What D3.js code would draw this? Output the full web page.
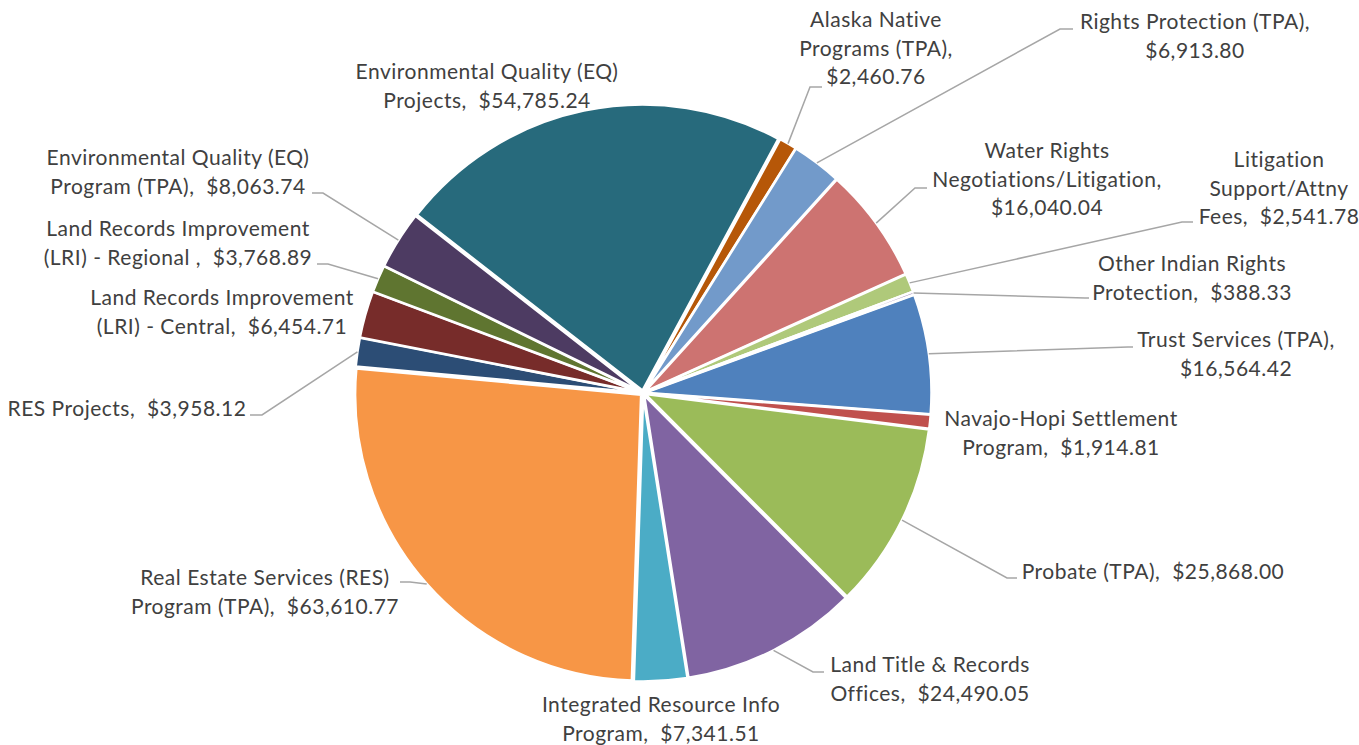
<!DOCTYPE html>
<html>
<head>
<meta charset="utf-8">
<script src="https://cdn.jsdelivr.net/npm/d3@7"></script>
<style>
  html, body { margin: 0; padding: 0; background: #ffffff; }
  svg { display: block; }
  text { font-family: Lato, "Open Sans", sans-serif; fill: #404040; white-space: pre; letter-spacing: 0.5px; }
</style>
</head>
<body>
<svg id="chart" width="1359" height="745"></svg>
<script>
// Program categories, in drawing order (clockwise)
const categories = [
  "Trust Services (TPA)",
  "Navajo-Hopi Settlement Program",
  "Probate (TPA)",
  "Land Title & Records Offices",
  "Integrated Resource Info Program",
  "Real Estate Services (RES) Program (TPA)",
  "RES Projects",
  "Land Records Improvement (LRI) - Central",
  "Land Records Improvement (LRI) - Regional ",
  "Environmental Quality (EQ) Program (TPA)",
  "Environmental Quality (EQ) Projects",
  "Alaska Native Programs (TPA)",
  "Rights Protection (TPA)",
  "Water Rights Negotiations/Litigation",
  "Litigation Support/Attny Fees",
  "Other Indian Rights Protection"
];

// Dollar amounts per category
const values = [
  16564.42, 1914.81, 25868.00, 24490.05, 7341.51, 63610.77, 3958.12, 6454.71,
  3768.89, 8063.74, 54785.24, 2460.76, 6913.80, 16040.04, 2541.78, 388.33
];

// Slice fills
const colors = [
  "#4F81BD", "#C0504D", "#9BBB59", "#8064A2", "#4BACC6", "#F79646",
  "#2C4D75", "#772C2A", "#5F7530", "#4D3B62", "#276A7C", "#B65708",
  "#729ACA", "#CD7371", "#AFC97A", "#9983B5"
];

// Label layout: words per line, anchor (centre x, first baseline y),
// and the leader path's elbow / end points (null = no leader)
const labelLayout = [
  { lines: [3, 1],    x: 1236, y: 347, elbow: [1128, 347], end: [1133, 347] },
  { lines: [2, 2],    x: 1061, y: 426, elbow: null },
  { lines: [3],       x: 1153, y: 579, elbow: [1007, 578], end: [1017, 578] },
  { lines: [4, 2],    x: 930,  y: 672, elbow: [813, 672],  end: [824, 672] },
  { lines: [3, 2],    x: 661,  y: 712, elbow: null },
  { lines: [4, 3],    x: 265,  y: 585, elbow: [410, 582],  end: [400, 582] },
  { lines: [3],       x: 127,  y: 416, elbow: [262, 415],  end: [250, 415] },
  { lines: [3, 4],    x: 222,  y: 305, elbow: null },
  { lines: [3, 5],    x: 178,  y: 236, elbow: [328, 264],  end: [317, 264] },
  { lines: [3, 3],    x: 178,  y: 165, elbow: [323, 193],  end: [312, 193] },
  { lines: [3, 2],    x: 487,  y: 79,  elbow: null },
  { lines: [2, 2, 1], x: 876,  y: 27,  elbow: [810, 87],   end: [822, 87] },
  { lines: [3, 1],    x: 1195, y: 29,  elbow: [1060, 29],  end: [1073, 29] },
  { lines: [2, 1, 1], x: 1047, y: 158, elbow: [915, 188],  end: [927, 188] },
  { lines: [1, 1, 2], x: 1279, y: 167, elbow: [1182, 222], end: [1193, 222] },
  { lines: [3, 2],    x: 1192, y: 271, elbow: [1085, 298], end: [1089, 298] }
];

const cx = 643, cy = 393, radius = 286, explode = 2.5, lineHeight = 28.5;
const startDeg = 70;

const svg = d3.select("#chart");
const g = svg.append("g").attr("transform", `translate(${cx},${cy})`);

const rows = categories.map((name, i) => ({ name, value: values[i], i }));

const pie = d3.pie()
  .sort(null)
  .value(d => d.value)
  .startAngle(startDeg * Math.PI / 180)
  .endAngle((startDeg + 360) * Math.PI / 180);

const arcs = pie(rows);
const arc = d3.arc().innerRadius(0).outerRadius(radius);
const mid = d => (d.startAngle + d.endAngle) / 2;

// Slices, each pushed slightly outward along its bisector
g.selectAll("path.slice")
  .data(arcs)
  .join("path")
  .attr("class", "slice")
  .attr("d", arc)
  .attr("transform", d => {
    const [ox, oy] = d3.pointRadial(mid(d), explode);
    return `translate(${ox},${oy})`;
  })
  .attr("fill", d => colors[d.data.i])
  .attr("stroke", "#ffffff")
  .attr("stroke-width", 2.5)
  .attr("stroke-linejoin", "round");

// Leader lines from the slice rim to the label
const leaders = svg.append("g");
arcs.forEach(d => {
  const L = labelLayout[d.data.i];
  if (!L.elbow) return;
  const [px, py] = d3.pointRadial(mid(d), radius + explode);
  leaders.append("polyline")
    .attr("points", [[cx + px, cy + py], L.elbow, L.end].map(p => p.join(",")).join(" "))
    .attr("fill", "none")
    .attr("stroke", "#A6A6A6")
    .attr("stroke-width", 1.5);
});

// Data labels: category name, then the dollar amount
const fmt = d3.format("$,.2f");
const labels = svg.append("g");
arcs.forEach(d => {
  const L = labelLayout[d.data.i];
  const tokens = (d.data.name + ",").split(" ").concat([fmt(d.data.value)]);
  const valueIdx = tokens.length - 1;
  const t = labels.append("text")
    .attr("text-anchor", "middle")
    .attr("font-size", 21);
  let k = 0;
  L.lines.forEach((n, li) => {
    let s = "";
    for (let j = 0; j < n; j++, k++) {
      if (j > 0) s += (k === valueIdx ? "  " : " ");
      s += tokens[k];
    }
    t.append("tspan")
      .attr("x", L.x)
      .attr("y", L.y + li * lineHeight)
      .text(s);
  });
});
</script>
</body>
</html>
